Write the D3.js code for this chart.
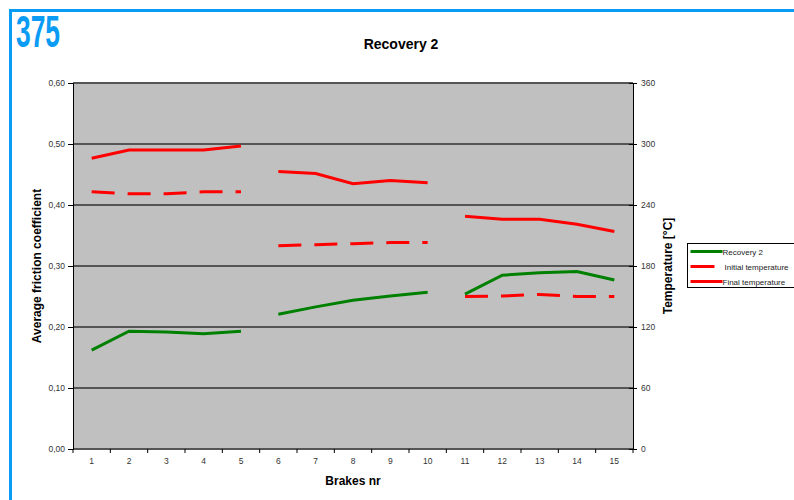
<!DOCTYPE html>
<html>
<head>
<meta charset="utf-8">
<script src="https://cdn.jsdelivr.net/npm/d3@7"></script>
<style>
  body { margin: 0; background: #fff; }
  text { font-family: "Liberation Sans", Arial, sans-serif; }
</style>
</head>
<body>
<script>
// brake numbers and the block each brake belongs to (lines break between blocks)
let brakes = [1, 2, 3, 4, 5, 6, 7, 8, 9, 10, 11, 12, 13, 14, 15]
let blocks = [1, 1, 1, 1, 1, 2, 2, 2, 2, 2, 3, 3, 3, 3, 3]
let recovery = [0.162, 0.193, 0.192, 0.189, 0.193, 0.221, 0.233, 0.244, 0.251, 0.257, 0.254, 0.285, 0.289, 0.291, 0.277]
let initialTemp = [253, 251, 251, 253, 253, 200, 201, 202, 203, 203, 150, 150.5, 152, 150, 150]
let finalTemp = [286, 294, 294, 294, 298, 273, 271, 261, 264, 262, 229, 226, 226, 221, 214]
let leftTicks = [0, 0.1, 0.2, 0.3, 0.4, 0.5, 0.6]
let rightTicks = [0, 60, 120, 180, 240, 300, 360]

renderChart()

function renderChart() {
  let width = 794
  let height = 500
  let left = 73, right = 633, top = 83, bottom = 449

  let svg = d3.select('body').append('svg').attr('width', width).attr('height', height)

  // blue page frame and page number
  svg.append('path')
    .attr('d', 'M10.5,500 L10.5,10.5 L794,10.5')
    .attr('fill', 'none').attr('stroke', '#0a9cf5').attr('stroke-width', 3)
  svg.append('text')
    .attr('transform', 'translate(16,47) scale(0.6,1)')
    .attr('font-size', 44).attr('font-weight', 'bold').attr('fill', '#0a9cf5')
    .text('375')

  let x = d3.scaleBand().domain(brakes).range([left, right])
  let yL = d3.scaleLinear().domain([0, 0.6]).range([bottom, top])
  let yR = d3.scaleLinear().domain([0, 360]).range([bottom, top])

  // plot background
  svg.append('rect')
    .attr('x', left).attr('y', top).attr('width', right - left).attr('height', bottom - top)
    .attr('fill', '#c0c0c0')

  // gridlines
  svg.append('g').selectAll('line').data(leftTicks).enter().append('line')
    .attr('x1', left).attr('x2', right)
    .attr('y1', d => yL(d)).attr('y2', d => yL(d))
    .attr('stroke', '#555').attr('stroke-width', 2)

  let fmt = d => d3.format('.2f')(d).replace('.', ',')

  // left axis
  let gl = svg.append('g').attr('transform', `translate(${left},0)`)
    .call(d3.axisLeft(yL).tickValues(leftTicks).tickFormat(fmt).tickSize(5).tickPadding(3))
  // right axis
  let gr = svg.append('g').attr('transform', `translate(${right},0)`)
    .call(d3.axisRight(yR).tickValues(rightTicks).tickSize(4).tickPadding(4))
  gr.selectAll('.tick line').attr('x1', -4)
  // bottom axis, ticks at category edges
  let gb = svg.append('g').attr('transform', `translate(0,${bottom})`)
    .call(d3.axisBottom(x).tickSize(0).tickPadding(9))
  gb.select('.domain').remove()
  gb.selectAll('.edge').data(brakes.concat([16])).enter().append('line')
    .attr('x1', (d, i) => left + i * x.step()).attr('x2', (d, i) => left + i * x.step())
    .attr('y1', 0).attr('y2', 4).attr('stroke', '#000')

  for (let g of [gl, gr, gb]) {
    g.selectAll('.tick text').attr('font-size', 8.5).attr('fill', '#333')
      .attr('font-family', '"Liberation Sans", Arial, sans-serif')
  }
  gl.select('.domain').attr('stroke', '#000')
  gr.select('.domain').attr('stroke', '#000')

  // series lines, one path per block
  let series = [
    { values: initialTemp, scale: yR, color: '#ff0000', dash: '23,13' },
    { values: finalTemp, scale: yR, color: '#ff0000', dash: null },
    { values: recovery, scale: yL, color: '#008000', dash: null }
  ]
  let blockIds = Array.from(new Set(blocks))
  for (let s of series) {
    let line = d3.line()
      .x(d => x(d.b) + x.bandwidth() / 2)
      .y(d => s.scale(d.v))
    for (let b of blockIds) {
      let pts = brakes.map((br, i) => ({ b: br, v: s.values[i], k: blocks[i] })).filter(d => d.k === b)
      svg.append('path')
        .attr('d', line(pts))
        .attr('fill', 'none')
        .attr('stroke', s.color)
        .attr('stroke-width', 3)
        .attr('stroke-dasharray', s.dash)
    }
  }

  // titles
  svg.append('text').attr('x', 401).attr('y', 49).attr('text-anchor', 'middle')
    .attr('font-size', 14).attr('font-weight', 'bold').text('Recovery 2')
  svg.append('text').attr('x', 353).attr('y', 485).attr('text-anchor', 'middle')
    .attr('font-size', 12).attr('font-weight', 'bold').text('Brakes nr')
  svg.append('text').attr('transform', `translate(41,${(top + bottom) / 2}) rotate(-90)`)
    .attr('text-anchor', 'middle').attr('font-size', 12).attr('font-weight', 'bold')
    .text('Average friction coefficient')
  svg.append('text').attr('transform', `translate(672,${(top + bottom) / 2}) rotate(-90)`)
    .attr('text-anchor', 'middle').attr('font-size', 12).attr('font-weight', 'bold')
    .text('Temperature [°C]')

  // legend
  let legendItems = [
    { name: 'Recovery 2', color: '#008000', len: 32 },
    { name: 'Initial temperature', color: '#ff0000', len: 24 },
    { name: 'Final temperature', color: '#ff0000', len: 32 }
  ]
  let lg = svg.append('g').attr('transform', 'translate(687.5,243.5)')
  lg.append('rect').attr('width', 120).attr('height', 44)
    .attr('fill', '#fff').attr('stroke', '#000').attr('stroke-width', 1)
  let row = lg.selectAll('g').data(legendItems).enter().append('g')
    .attr('transform', (d, i) => `translate(0,${8 + i * 15})`)
  row.append('line').attr('x1', 3).attr('x2', d => 3 + d.len)
    .attr('stroke', d => d.color).attr('stroke-width', 3)
  row.append('text').attr('x', (d, i) => i === 1 ? 37 : 35).attr('y', 3)
    .attr('font-size', 8).attr('fill', '#222').text(d => d.name)
}
</script>
</body>
</html>
